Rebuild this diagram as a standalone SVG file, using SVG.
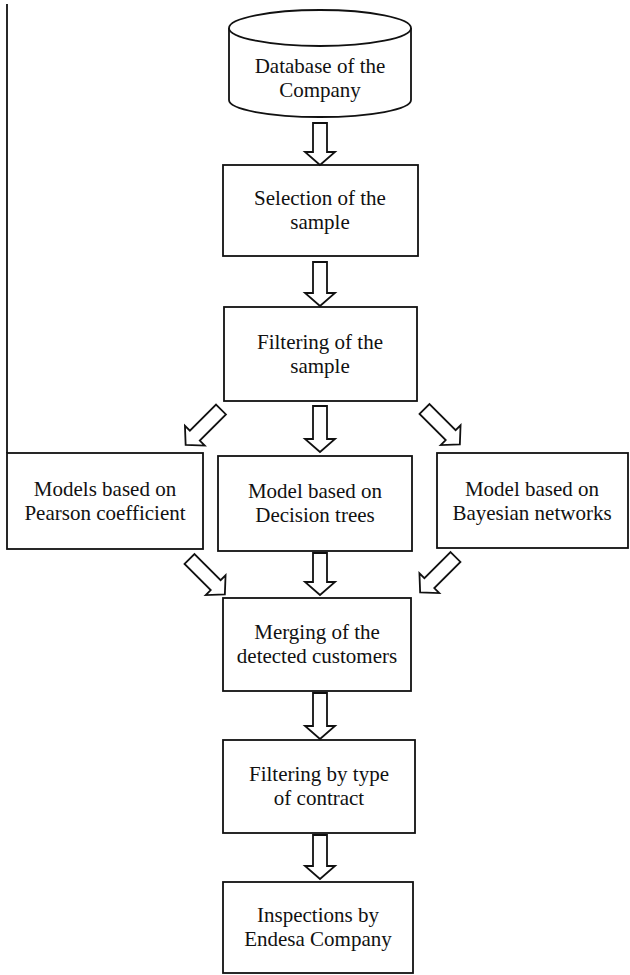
<svg xmlns="http://www.w3.org/2000/svg" width="630" height="975" viewBox="0 0 630 975">
<style>
.s{fill:#fff;stroke:#111;stroke-width:1.8}
.t{font-family:"Liberation Serif","Times New Roman",serif;font-size:21px;fill:#111;text-anchor:middle}
.a{fill:#fff;stroke:#111;stroke-width:1.8;stroke-linejoin:miter}
</style>
<defs>
<path id="da" d="M-7,0 L7,0 L7,37 L14,37 L0,50 L-14,37 L-7,37 Z"/>
</defs>
<rect width="630" height="975" fill="#fff"/>
<line x1="7" y1="4" x2="7" y2="453" stroke="#111" stroke-width="1.8"/>
<g id="database">
<path class="s" d="M229,28 L229,100 A91,17 0 0 0 411,100 L411,28"/>
<ellipse class="s" cx="320" cy="28" rx="91" ry="18"/>
<text class="t" x="320" y="73">Database of the</text>
<text class="t" x="320" y="97">Company</text>
</g>
<g id="selection">
<rect class="s" x="223" y="165" width="195" height="91"/>
<text class="t" x="320" y="205">Selection of the</text>
<text class="t" x="320" y="229">sample</text>
</g>
<g id="filtering">
<rect class="s" x="224" y="307" width="193" height="94"/>
<text class="t" x="320" y="349">Filtering of the</text>
<text class="t" x="320" y="373">sample</text>
</g>
<g id="pearson">
<rect class="s" x="7" y="453" width="196" height="96"/>
<text class="t" x="105" y="496">Models based on</text>
<text class="t" x="105" y="520">Pearson coefficient</text>
</g>
<g id="decision">
<rect class="s" x="218" y="456" width="194" height="95"/>
<text class="t" x="315" y="498">Model based on</text>
<text class="t" x="315" y="522">Decision trees</text>
</g>
<g id="bayesian">
<rect class="s" x="437" y="453" width="191" height="95"/>
<text class="t" x="532" y="496">Model based on</text>
<text class="t" x="532" y="520">Bayesian networks</text>
</g>
<g id="merging">
<rect class="s" x="223" y="598" width="188" height="93"/>
<text class="t" x="317" y="639">Merging of the</text>
<text class="t" x="317" y="663">detected customers</text>
</g>
<g id="contract">
<rect class="s" x="223" y="740" width="192" height="93"/>
<text class="t" x="319" y="781">Filtering by type</text>
<text class="t" x="319" y="805">of contract</text>
</g>
<g id="inspections">
<rect class="s" x="223" y="882" width="190" height="91"/>
<text class="t" x="318" y="922">Inspections by</text>
<text class="t" x="318" y="946">Endesa Company</text>
</g>
<g id="connectors">
<path class="a" d="M313,123 L327,123 L327,152 L335,152 L320,165 L305,152 L313,152 Z"/>
<path class="a" d="M313,262 L327,262 L327,293 L335,293 L320,306 L305,293 L313,293 Z"/>
<path class="a" d="M313,406 L327,406 L327,439 L335,439 L320,452 L305,439 L313,439 Z"/>
<path class="a" d="M313,553 L327,553 L327,582 L335,582 L320,595 L305,582 L313,582 Z"/>
<path class="a" d="M313,693 L327,693 L327,726 L335,726 L320,739 L305,726 L313,726 Z"/>
<path class="a" d="M313,835 L327,835 L327,866 L335,866 L320,879 L305,866 L313,866 Z"/>
<use href="#da" class="a" transform="translate(221,409.5) rotate(45)"/>
<use href="#da" class="a" transform="translate(424.5,409) rotate(-45)"/>
<use href="#da" class="a" transform="translate(189.5,559) rotate(-45)"/>
<use href="#da" class="a" transform="translate(455.5,557) rotate(45)"/>
</g>
</svg>
